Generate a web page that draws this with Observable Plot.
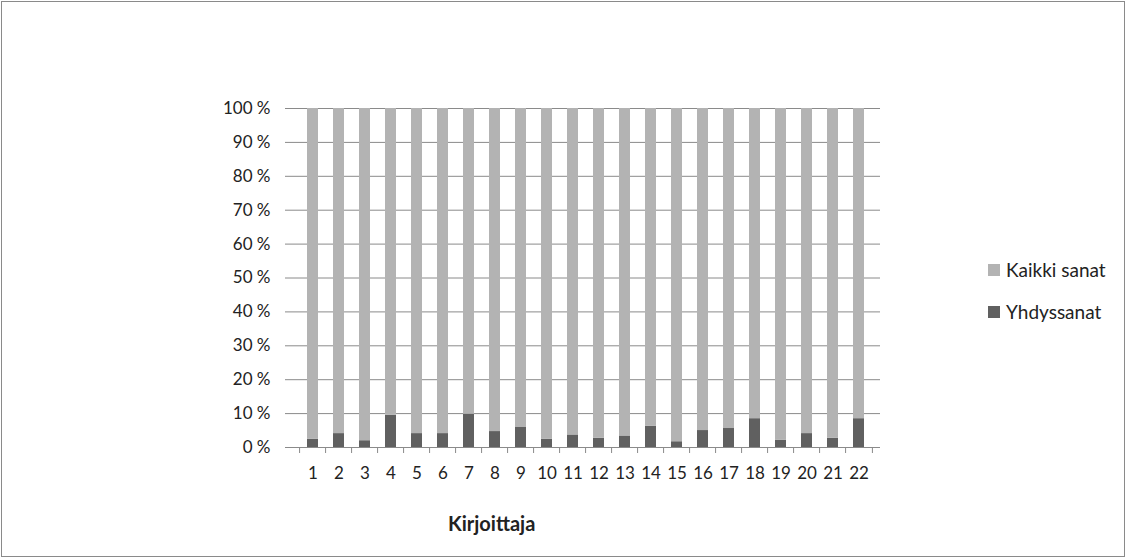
<!DOCTYPE html>
<html>
<head>
<meta charset="utf-8">
<script src="https://cdn.jsdelivr.net/npm/d3@7"></script>
<script src="https://cdn.jsdelivr.net/npm/@observablehq/plot@0.6"></script>
<style>
  html, body { margin: 0; padding: 0; background: #fff; }
  #wrap { position: relative; width: 1127px; height: 559px; font-family: Lato, "Open Sans", sans-serif; }
  #chart { position: absolute; left: 0; top: 0; }
  #border { position: absolute; left: 1px; top: 1px; width: 1122px; height: 554px; border: 1px solid #8a8a8a; pointer-events: none; }
  .leg { position: absolute; left: 988px; font-size: 19px; color: #222; display: flex; align-items: center; line-height: 1; }
  .sw { width: 12px; height: 12px; margin-right: 6px; }
  #xtitle { position: absolute; left: 448px; top: 513px; font-size: 20px; font-weight: bold; color: #222; line-height: 1; }
</style>
</head>
<body>
<div id="wrap">
  <div id="chart"></div>
  <div id="border"></div>
  <div class="leg" style="top:260px"><div class="sw" style="background:#b3b3b3"></div>Kaikki sanat</div>
  <div class="leg" style="top:302px"><div class="sw" style="background:#606060"></div>Yhdyssanat</div>
  <div id="xtitle">Kirjoittaja</div>
</div>
<script>
const kirjoittajat = ["1","2","3","4","5","6","7","8","9","10","11","12","13","14","15","16","17","18","19","20","21","22"];
const yhdyssanat = [2.4, 4.1, 2.0, 9.5, 4.1, 4.1, 9.8, 4.7, 5.9, 2.4, 3.7, 2.7, 3.4, 6.3, 1.7, 5.0, 5.6, 8.5, 2.1, 4.1, 2.7, 8.5];
const sarjat = ["Yhdyssanat", "Kaikki sanat"];
const yTicks = [0, 10, 20, 30, 40, 50, 60, 70, 80, 90, 100];

const rows = [];
kirjoittajat.forEach((k, i) => {
  rows.push({k, sarja: "Yhdyssanat", v: yhdyssanat[i]});
  rows.push({k, sarja: "Kaikki sanat", v: 100 - yhdyssanat[i]});
});

const W = 1127, H = 559, ML = 290, MR = 247, MT = 108, MB = 112;
const step = (W - ML - MR) / kirjoittajat.length;

const chart = Plot.plot({
  width: W, height: H,
  marginLeft: ML, marginRight: MR, marginTop: MT, marginBottom: MB,
  style: {fontFamily: "Lato, 'Open Sans', sans-serif", fontSize: "17px", color: "#222", background: "#fff"},
  x: {domain: kirjoittajat, paddingInner: 0.58, paddingOuter: 0.29, axis: null},
  y: {domain: [0, 100], axis: null},
  color: {domain: sarjat, range: ["#606060", "#b3b3b3"]},
  marks: [
    Plot.ruleY(yTicks, {stroke: "#8a8a8a", strokeWidth: 1}),
    Plot.barY(rows, {x: "k", y: "v", fill: "sarja", order: sarjat}),
    Plot.ruleX([0], {frameAnchor: "left", stroke: "#8a8a8a"}),
    Plot.axisY({ticks: yTicks, tickSize: 5, tickPadding: 15, stroke: "#8a8a8a", fontSize: 17, tickFormat: d => d + " %", label: null}),
    Plot.axisX({tickSize: 6, dx: -step / 2, text: null, label: null, stroke: "#8a8a8a"}),
    Plot.axisX({ticks: [kirjoittajat[kirjoittajat.length - 1]], tickSize: 6, dx: step / 2, text: null, label: null, stroke: "#8a8a8a"}),
    Plot.axisX({tickSize: 0, tickPadding: 19, fontSize: 17, label: null})
  ]
});
document.getElementById("chart").appendChild(chart);
</script>
</body>
</html>
